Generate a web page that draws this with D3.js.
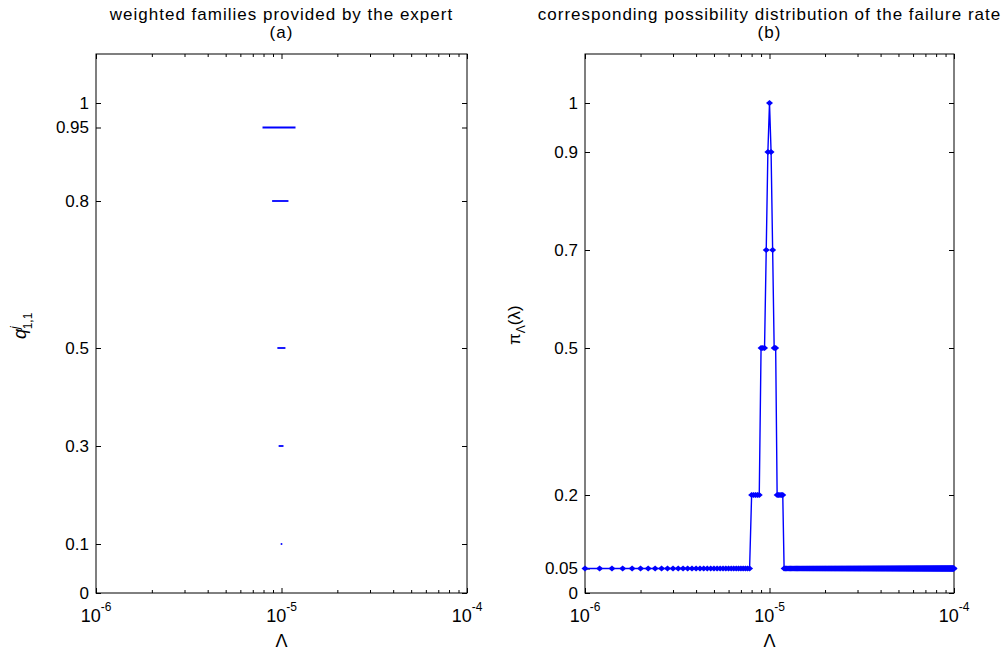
<!DOCTYPE html>
<html>
<head>
<meta charset="utf-8">
<script src="https://cdn.jsdelivr.net/npm/d3@7"></script>
<style>
  body { margin: 0; background: #fff; }
  svg text { font-family: "Liberation Sans", Arial, sans-serif; fill: #000; }
</style>
</head>
<body>
<svg id="chart" width="1003" height="650"></svg>
<script>
// ---- data ----
// (a) weighted families: weight and interval [low, high] on Lambda
var familyWeights = [0.95, 0.8, 0.5, 0.3, 0.1];
var familyLow  = [7.9e-6, 8.9e-6, 9.5e-6, 9.65e-6, 9.9e-6];
var familyHigh = [1.19e-5, 1.09e-5, 1.05e-5, 1.025e-5, 1.01e-5];

// (b) possibility distribution: step levels between the break points,
// sampled on the grid shown by the markers
var piBreaks = [7.9e-6, 8.9e-6, 9.5e-6, 9.7e-6, 9.9e-6, 1.01e-5, 1.03e-5, 1.05e-5, 1.09e-5, 1.19e-5];
var piLevels = [0.05, 0.2, 0.5, 0.7, 0.9, 1, 0.9, 0.7, 0.5, 0.2, 0.05];
var lambdaStart = 1e-6, lambdaStep = 2e-7, lambdaCount = 496;

// tick labels
var yTicksA = [0, 0.1, 0.3, 0.5, 0.8, 0.95, 1];
var yTicksB = [0, 0.05, 0.2, 0.5, 0.7, 0.9, 1];
var xMajor = [1e-6, 1e-5, 1e-4];
var xExp = ["-6", "-5", "-4"];
var xMinor = [2, 3, 4, 5, 6, 7, 8, 9].map(d => d * 1e-6).concat([2, 3, 4, 5, 6, 7, 8, 9].map(d => d * 1e-5));

var blue = "#0000ff";
var svg = d3.select("#chart");

var top_ = 54, bottom = 593;

function drawPanel(x0, x1, yTicks, title) {
  var x = d3.scaleLog().domain([1e-6, 1e-4]).range([x0, x1]);
  var y = d3.scaleLinear().domain([0, 1.1]).range([bottom, top_]);
  var g = svg.append("g");

  // bottom axis
  g.append("g").attr("transform", `translate(0,${bottom})`)
    .call(d3.axisBottom(x).tickValues(xMajor).tickSize(-5).tickFormat(""))
    .call(a => a.select(".domain").remove());
  g.append("g").attr("transform", `translate(0,${bottom})`)
    .call(d3.axisBottom(x).tickValues(xMinor).tickSize(-3).tickFormat(""))
    .call(a => a.select(".domain").remove());
  // top axis
  g.append("g").attr("transform", `translate(0,${top_})`)
    .call(d3.axisTop(x).tickValues(xMajor).tickSize(-5).tickFormat(""))
    .call(a => a.select(".domain").remove());
  g.append("g").attr("transform", `translate(0,${top_})`)
    .call(d3.axisTop(x).tickValues(xMinor).tickSize(-3).tickFormat(""))
    .call(a => a.select(".domain").remove());
  // left axis
  g.append("g").attr("transform", `translate(${x0},0)`)
    .call(d3.axisLeft(y).tickValues(yTicks).tickSize(-5).tickPadding(7).tickFormat(d => d))
    .call(a => a.select(".domain").remove())
    .call(a => a.selectAll("text").style("font-size", "17px").style("font-family", "Liberation Sans, Arial, sans-serif"));
  // right axis
  g.append("g").attr("transform", `translate(${x1},0)`)
    .call(d3.axisRight(y).tickValues(yTicks).tickSize(-5).tickFormat(""))
    .call(a => a.select(".domain").remove());

  g.selectAll(".tick line").attr("stroke", "#000");

  // frame
  g.append("rect")
    .attr("x", x0).attr("y", top_)
    .attr("width", x1 - x0).attr("height", bottom - top_)
    .attr("fill", "none").attr("stroke", "#000").attr("stroke-width", 1);

  // x tick labels 10^n
  var lab = g.append("g").selectAll("text").data(xMajor).enter().append("text")
    .attr("x", d => x(d)).attr("y", bottom + 29)
    .attr("text-anchor", "middle")
    .style("font-size", "18px");
  lab.append("tspan").text("10");
  lab.append("tspan").attr("dy", -11).style("font-size", "12px").text((d, i) => xExp[i]);

  // x label
  g.append("text")
    .attr("x", (x0 + x1) / 2).attr("y", 647)
    .attr("text-anchor", "middle").style("font-size", "18px")
    .text("Λ");

  // title
  g.append("text")
    .attr("x", (x0 + x1) / 2).attr("y", 20)
    .attr("text-anchor", "middle").style("font-size", "17px").style("letter-spacing", "1px")
    .text(title[0]);
  g.append("text")
    .attr("x", (x0 + x1) / 2).attr("y", 38)
    .attr("text-anchor", "middle").style("font-size", "17px").style("letter-spacing", "1px")
    .text(title[1]);

  return { x: x, y: y, g: g };
}

// ---- panel (a) ----
var pa = drawPanel(96, 467, yTicksA, ["weighted families provided by the expert", "(a)"]);
pa.g.append("g").selectAll("line").data(familyWeights).enter().append("line")
  .attr("x1", (d, i) => pa.x(familyLow[i]))
  .attr("x2", (d, i) => pa.x(familyHigh[i]))
  .attr("y1", d => pa.y(d)).attr("y2", d => pa.y(d))
  .attr("stroke", blue).attr("stroke-width", 1.8);

var la = pa.g.append("text")
  .attr("transform", "translate(26,339) rotate(-90)")
  .style("font-size", "18px");
la.append("tspan").style("font-style", "italic").text("q");
la.append("tspan").attr("dy", -7).style("font-size", "12px").style("font-style", "italic").text("j");
la.append("tspan").attr("dx", -3).attr("dy", 13).style("font-size", "12px").text("1,1");

// ---- panel (b) ----
var pb = drawPanel(585, 954, yTicksB, ["corresponding possibility distribution of the failure rate", "(b)"]);
var piPoints = d3.range(lambdaCount).map(i => {
  var lam = lambdaStart + i * lambdaStep;
  return { lam: lam, pi: piLevels[d3.bisectRight(piBreaks, lam)] };
});

pb.g.append("path")
  .datum(piPoints)
  .attr("fill", "none").attr("stroke", blue).attr("stroke-width", 1.4)
  .attr("d", d3.line().x(d => pb.x(d.lam)).y(d => pb.y(d.pi)));

pb.g.append("g").selectAll("path").data(piPoints).enter().append("path")
  .attr("transform", d => `translate(${pb.x(d.lam)},${pb.y(d.pi)})`)
  .attr("d", "M-3.5,0L0,-3L3.5,0L0,3Z")
  .attr("fill", blue);

var lb = pb.g.append("text")
  .attr("transform", "translate(520,345) rotate(-90)")
  .style("font-size", "17px");
lb.append("tspan").text("π");
lb.append("tspan").attr("dy", 5).style("font-size", "12px").text("Λ");
lb.append("tspan").attr("dy", -5).text("(λ)");
</script>
</body>
</html>
